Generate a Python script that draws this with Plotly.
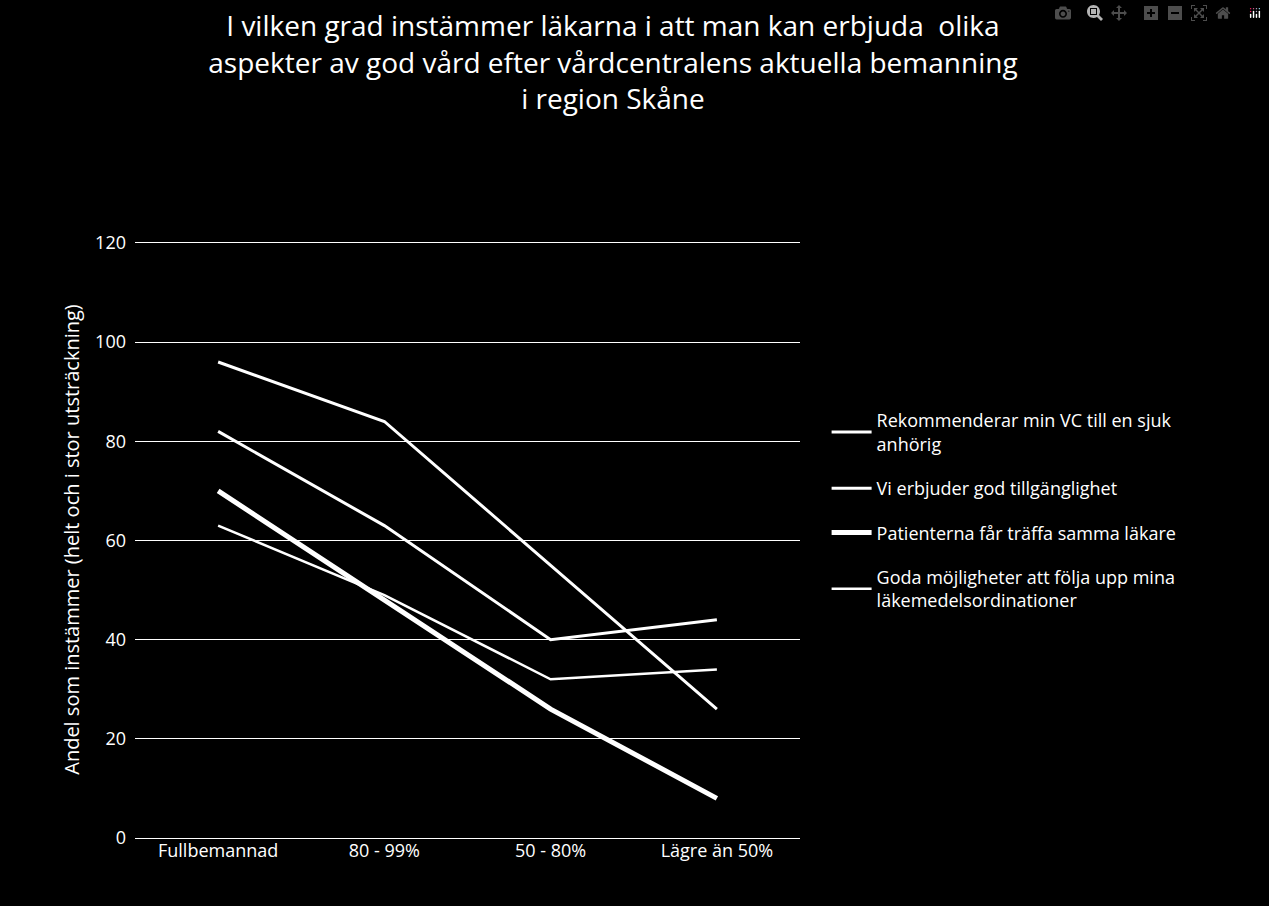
import plotly.graph_objects as go

categories = ["Fullbemannad", "80 - 99%", "50 - 80%", "Lägre än 50%"]
rekommenderar = [96, 84, 55, 26]
tillganglighet = [82, 63, 40, 44]
samma_lakare = [70, 48, 26, 8]
lakemedel = [63, 49, 32, 34]

series = [
    ("Rekommenderar min VC till en sjuk<br>anhörig", rekommenderar, 3),
    ("Vi erbjuder god tillgänglighet", tillganglighet, 3),
    ("Patienterna får träffa samma läkare", samma_lakare, 5),
    ("Goda möjligheter att följa upp mina<br>läkemedelsordinationer", lakemedel, 2.5),
]

fig = go.Figure()
for i, (name, vals, w) in enumerate(series):
    fig.add_trace(go.Scatter(x=categories, y=vals, name=name, mode="lines",
                             legendgroup=str(i),
                             line=dict(color="white", width=w)))

font = "Open Sans, sans-serif"
fig.update_layout(
    width=1269, height=906,
    paper_bgcolor="black", plot_bgcolor="black",
    margin=dict(l=135, r=469, t=241, b=68),
    title=dict(text="I vilken grad instämmer läkarna i att man kan erbjuda  olika<br>aspekter av god vård efter vårdcentralens aktuella bemanning<br>i region Skåne",
               x=0.483, xanchor="center", y=0.96, yanchor="top",
               font=dict(family=font, size=28, color="white")),
    font=dict(family=font, color="white", size=18),
    xaxis=dict(type="category", range=[-0.5, 3.5], showgrid=False, showline=False,
               ticks="", tickfont=dict(size=18, color="white")),
    yaxis=dict(range=[0, 120.4], tickvals=[0, 20, 40, 60, 80, 100, 120],
               showgrid=True, gridcolor="white", gridwidth=1,
               zeroline=True, zerolinecolor="white", zerolinewidth=1,
               tickfont=dict(size=18, color="white"), ticklabelstandoff=8,
               title=dict(text="Andel som instämmer (helt och i stor utsträckning)",
                          font=dict(size=20, color="white"), standoff=10)),
    legend=dict(x=1.04, y=0.73, xanchor="left", yanchor="top",
                font=dict(size=18, color="white"), bgcolor="rgba(0,0,0,0)",
                itemwidth=40, tracegroupgap=18),
    showlegend=True,
)
fig.write_html("out.html",
               post_script="document.body.style.margin='0';document.body.style.background='black';")
